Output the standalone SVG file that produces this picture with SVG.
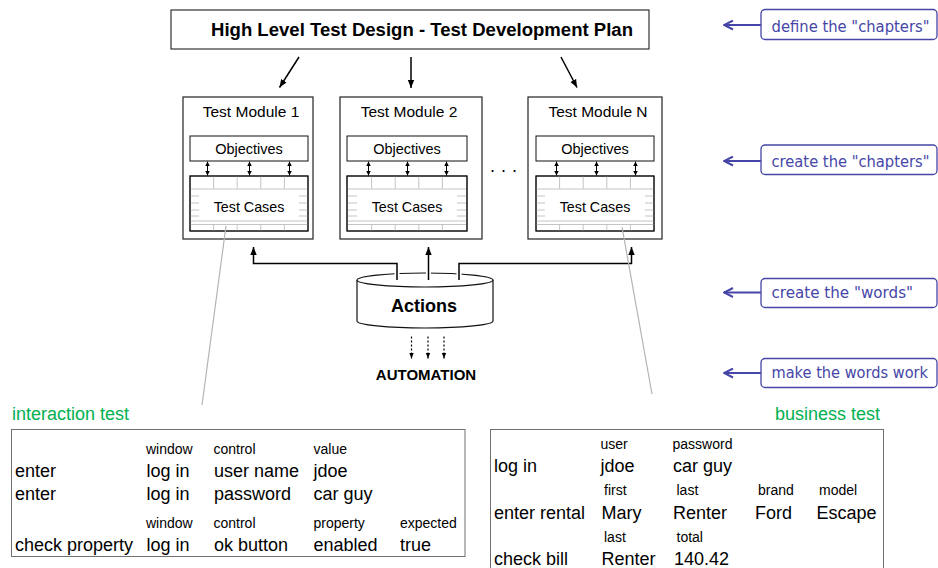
<svg xmlns="http://www.w3.org/2000/svg" width="938" height="568" viewBox="0 0 938 568">
  <style>
    .t{font-family:"Liberation Sans",Arial,sans-serif;fill:#000}
    .b{font-weight:bold}
    .mod{fill:#fff;stroke:#222;stroke-width:1.2}
    .box{fill:#fff;stroke:#111;stroke-width:1}
    .frame{fill:none;stroke:#111;stroke-width:1}
    .grid line{stroke:#c4c4c4;stroke-width:1}
    .conn{fill:none;stroke:#000;stroke-width:1.5}
    .arrow{marker-end:url(#ah)}
    .dbl{stroke:#000;stroke-width:1;marker-start:url(#sm);marker-end:url(#sm)}
    .dots{stroke:#000;stroke-width:1.2;stroke-dasharray:2 2;marker-end:url(#ah2)}
    .halo{stroke:#fff;stroke-width:5}
    .lead{stroke:#b4b4b4;stroke-width:1.2}
    .note rect{fill:#fff;stroke:#4646a8;stroke-width:1.3}
    .note text{font-family:"Comic Sans MS","DejaVu Sans",sans-serif;font-size:15px;fill:#4646a8}
    .note line{stroke:#4646a8;stroke-width:2;marker-end:url(#chev)}
    .tbl{fill:#fff;stroke:#707070;stroke-width:1}
    .sm{font-size:14px}
    .lg{font-size:18px}
    .grn{fill:#00b050;font-size:18px}
    .mt{font-size:15.5px}
    .ob{font-size:14.5px}
    .tcs{font-size:14.3px}
  </style>
  <defs>
    <marker id="ah" viewBox="0 0 10 10" refX="10" refY="5" markerWidth="8" markerHeight="8" markerUnits="userSpaceOnUse" orient="auto">
      <path d="M0,1 L10,5 L0,9 z" fill="#000"/>
    </marker>
    <marker id="ah2" viewBox="0 0 10 10" refX="10" refY="5" markerWidth="6" markerHeight="6" markerUnits="userSpaceOnUse" orient="auto">
      <path d="M0,1 L10,5 L0,9 z" fill="#000"/>
    </marker>
    <marker id="sm" viewBox="0 0 10 10" refX="10" refY="5" markerWidth="4.5" markerHeight="4.5" markerUnits="userSpaceOnUse" orient="auto-start-reverse">
      <path d="M0,0 L10,5 L0,10 z" fill="#000"/>
    </marker>
    <marker id="chev" viewBox="0 0 11 11" refX="10" refY="5.5" markerWidth="11" markerHeight="11" markerUnits="userSpaceOnUse" orient="auto">
      <path d="M1,1 L10,5.5 L1,10" fill="none" stroke="#4646a8" stroke-width="2"/>
    </marker>
    <!-- light ruling inside a "Test Cases" table, 118 x 55 -->
    <g id="tc" class="grid">
      <line x1="23.6" y1="0" x2="23.6" y2="13"/>
      <line x1="47.2" y1="0" x2="47.2" y2="13"/>
      <line x1="70.8" y1="0" x2="70.8" y2="13"/>
      <line x1="94.4" y1="0" x2="94.4" y2="13"/>
      <line x1="0" y1="13" x2="118" y2="13"/>
      <line x1="0" y1="20" x2="9" y2="20"/>
      <line x1="0" y1="27" x2="9" y2="27"/>
      <line x1="0" y1="34" x2="9" y2="34"/>
      <line x1="0" y1="40" x2="9" y2="40"/>
      <line x1="109" y1="20" x2="118" y2="20"/>
      <line x1="109" y1="27" x2="118" y2="27"/>
      <line x1="109" y1="34" x2="118" y2="34"/>
      <line x1="109" y1="40" x2="118" y2="40"/>
      <line x1="0" y1="45" x2="118" y2="45"/>
      <line x1="0" y1="48.5" x2="118" y2="48.5"/>
      <line x1="23.6" y1="48.5" x2="23.6" y2="55"/>
      <line x1="47.2" y1="48.5" x2="47.2" y2="55"/>
      <line x1="70.8" y1="48.5" x2="70.8" y2="55"/>
      <line x1="94.4" y1="48.5" x2="94.4" y2="55"/>
    </g>
  </defs>

  <rect width="938" height="568" fill="#fff"/>

  <!-- plan -->
  <g id="plan">
    <rect x="171" y="10" width="478" height="39" fill="#fff" stroke="#333" stroke-width="1.2"/>
    <text class="t b" x="211" y="36" font-size="18" textLength="422" lengthAdjust="spacingAndGlyphs">High Level Test Design - Test Development Plan</text>
  </g>

  <!-- test modules -->
  <g id="module-1">
    <rect class="mod" x="183" y="97" width="130" height="142"/>
    <text class="t mt" x="251" y="116.5" text-anchor="middle">Test Module 1</text>
    <rect class="box" x="190" y="136" width="118" height="25"/>
    <text class="t ob" x="249" y="153.5" text-anchor="middle">Objectives</text>
    <rect class="box" x="190" y="176" width="118" height="55"/>
    <use href="#tc" x="190" y="176"/>
    <rect class="frame" x="190" y="176" width="118" height="55"/>
    <text class="t tcs" x="249" y="211.5" text-anchor="middle">Test Cases</text>
    <line class="dbl" x1="207.5" y1="161.5" x2="207.5" y2="175.5"/>
    <line class="dbl" x1="249.5" y1="161.5" x2="249.5" y2="175.5"/>
    <line class="dbl" x1="289.5" y1="161.5" x2="289.5" y2="175.5"/>
  </g>

  <g id="module-2">
    <rect class="mod" x="340" y="97" width="142" height="142"/>
    <text class="t mt" x="409" y="116.5" text-anchor="middle">Test Module 2</text>
    <rect class="box" x="347" y="136" width="120" height="25"/>
    <text class="t ob" x="407" y="153.5" text-anchor="middle">Objectives</text>
    <rect class="box" x="347" y="176" width="120" height="55"/>
    <use href="#tc" x="348" y="176"/>
    <rect class="frame" x="347" y="176" width="120" height="55"/>
    <text class="t tcs" x="407" y="211.5" text-anchor="middle">Test Cases</text>
    <line class="dbl" x1="368.5" y1="161.5" x2="368.5" y2="175.5"/>
    <line class="dbl" x1="407.5" y1="161.5" x2="407.5" y2="175.5"/>
    <line class="dbl" x1="446.5" y1="161.5" x2="446.5" y2="175.5"/>
  </g>

  <text id="ellipsis" class="t" x="490" y="172" font-size="18" textLength="27">. . .</text>

  <g id="module-n">
    <rect class="mod" x="528" y="97" width="134" height="142"/>
    <text class="t mt" x="598" y="116.5" text-anchor="middle">Test Module N</text>
    <rect class="box" x="536" y="136" width="118" height="25"/>
    <text class="t ob" x="595" y="153.5" text-anchor="middle">Objectives</text>
    <rect class="box" x="536" y="176" width="118" height="55"/>
    <use href="#tc" x="536" y="176"/>
    <rect class="frame" x="536" y="176" width="118" height="55"/>
    <text class="t tcs" x="595" y="211.5" text-anchor="middle">Test Cases</text>
    <line class="dbl" x1="556.5" y1="161.5" x2="556.5" y2="175.5"/>
    <line class="dbl" x1="596.5" y1="161.5" x2="596.5" y2="175.5"/>
    <line class="dbl" x1="635.5" y1="161.5" x2="635.5" y2="175.5"/>
  </g>

  <!-- actions store -->
  <g id="actions">
    <path d="M357,280 V321 A68,7 0 0 0 493,321 V280" fill="#fff" stroke="#111" stroke-width="1.2"/>
    <ellipse cx="425" cy="280" rx="68" ry="7" fill="#fff" stroke="#111" stroke-width="1.2"/>
    <text class="t b" x="424" y="311.5" font-size="18" text-anchor="middle">Actions</text>
  </g>

  <text id="automation" class="t b" x="426" y="380" font-size="15" text-anchor="middle">AUTOMATION</text>

  <!-- connectors -->
  <g id="connectors">
    <line class="conn arrow" x1="299" y1="57" x2="279.5" y2="87.5"/>
    <line class="conn arrow" x1="411" y1="57" x2="411" y2="88"/>
    <line class="conn arrow" x1="561" y1="57" x2="577" y2="87.5"/>

    <line class="halo" x1="397" y1="270" x2="397" y2="278"/>
    <line class="halo" x1="428.5" y1="270" x2="428.5" y2="278"/>
    <line class="halo" x1="459" y1="270" x2="459" y2="278"/>
    <path class="conn arrow" d="M397,280 V263.5 H253.5 V247"/>
    <path class="conn arrow" d="M428.5,280 V247"/>
    <path class="conn arrow" d="M459,280 V263.5 H631.5 V247"/>

    <line class="dots" x1="411.5" y1="336.5" x2="411.5" y2="358.5"/>
    <line class="dots" x1="428" y1="336.5" x2="428" y2="358.5"/>
    <line class="dots" x1="444" y1="336.5" x2="444" y2="358.5"/>

    <line class="lead" x1="226" y1="226" x2="202" y2="405"/>
    <line class="lead" x1="622" y1="227" x2="652" y2="394"/>
  </g>

  <!-- level notes -->
  <g id="note-1" class="note">
    <line x1="761" y1="25" x2="724" y2="25"/>
    <rect x="761" y="9.5" width="176" height="30" rx="4"/>
    <text x="771.5" y="31.5" textLength="158" lengthAdjust="spacingAndGlyphs">define the "chapters"</text>
  </g>
  <g id="note-2" class="note">
    <line x1="761" y1="161" x2="724" y2="161"/>
    <rect x="761" y="145" width="176" height="29.5" rx="4"/>
    <text x="771.5" y="166.5" textLength="158" lengthAdjust="spacingAndGlyphs">create the "chapters"</text>
  </g>
  <g id="note-3" class="note">
    <line x1="761" y1="292.5" x2="724" y2="292.5"/>
    <rect x="761" y="278.5" width="176" height="29" rx="4"/>
    <text x="771.5" y="297.5" textLength="141.5" lengthAdjust="spacingAndGlyphs">create the "words"</text>
  </g>
  <g id="note-4" class="note">
    <line x1="761" y1="373" x2="724" y2="373"/>
    <rect x="761" y="358.5" width="176" height="29" rx="4"/>
    <text x="771.5" y="378" textLength="156.5" lengthAdjust="spacingAndGlyphs">make the words work</text>
  </g>

  <!-- interaction test -->
  <g id="interaction-test">
    <text class="t grn" x="12" y="420">interaction test</text>
    <rect class="tbl" x="11.5" y="429.5" width="453.5" height="127"/>
    <g class="t sm">
      <text x="146" y="453.5">window</text>
      <text x="213.5" y="453.5">control</text>
      <text x="313.5" y="453.5">value</text>
      <text x="146" y="527.5">window</text>
      <text x="213.5" y="527.5">control</text>
      <text x="313.5" y="527.5">property</text>
      <text x="400" y="527.5">expected</text>
    </g>
    <g class="t lg">
      <text x="15" y="477">enter</text>
      <text x="146.5" y="477">log in</text>
      <text x="214" y="477">user name</text>
      <text x="313.5" y="477">jdoe</text>
      <text x="15" y="500">enter</text>
      <text x="146.5" y="500">log in</text>
      <text x="214" y="500">password</text>
      <text x="313.5" y="500">car guy</text>
      <text x="15" y="551">check property</text>
      <text x="146.5" y="551">log in</text>
      <text x="214" y="551">ok button</text>
      <text x="313.5" y="551">enabled</text>
      <text x="400" y="551">true</text>
    </g>
  </g>

  <!-- business test -->
  <g id="business-test">
    <text class="t grn" x="880" y="420" text-anchor="end">business test</text>
    <rect class="tbl" x="490.5" y="429.5" width="393" height="150"/>
    <g class="t sm">
      <text x="600.5" y="448.5">user</text>
      <text x="672.5" y="448.5">password</text>
      <text x="604" y="495">first</text>
      <text x="676.5" y="495">last</text>
      <text x="758" y="495">brand</text>
      <text x="819" y="495">model</text>
      <text x="604" y="541.5">last</text>
      <text x="676.5" y="541.5">total</text>
    </g>
    <g class="t lg">
      <text x="494" y="472">log in</text>
      <text x="600.5" y="472">jdoe</text>
      <text x="673" y="472">car guy</text>
      <text x="494" y="518.5">enter rental</text>
      <text x="601.5" y="518.5">Mary</text>
      <text x="673" y="518.5">Renter</text>
      <text x="755" y="518.5">Ford</text>
      <text x="816.5" y="518.5">Escape</text>
      <text x="494" y="565">check bill</text>
      <text x="601.5" y="565">Renter</text>
      <text x="674" y="565">140.42</text>
    </g>
  </g>
</svg>
